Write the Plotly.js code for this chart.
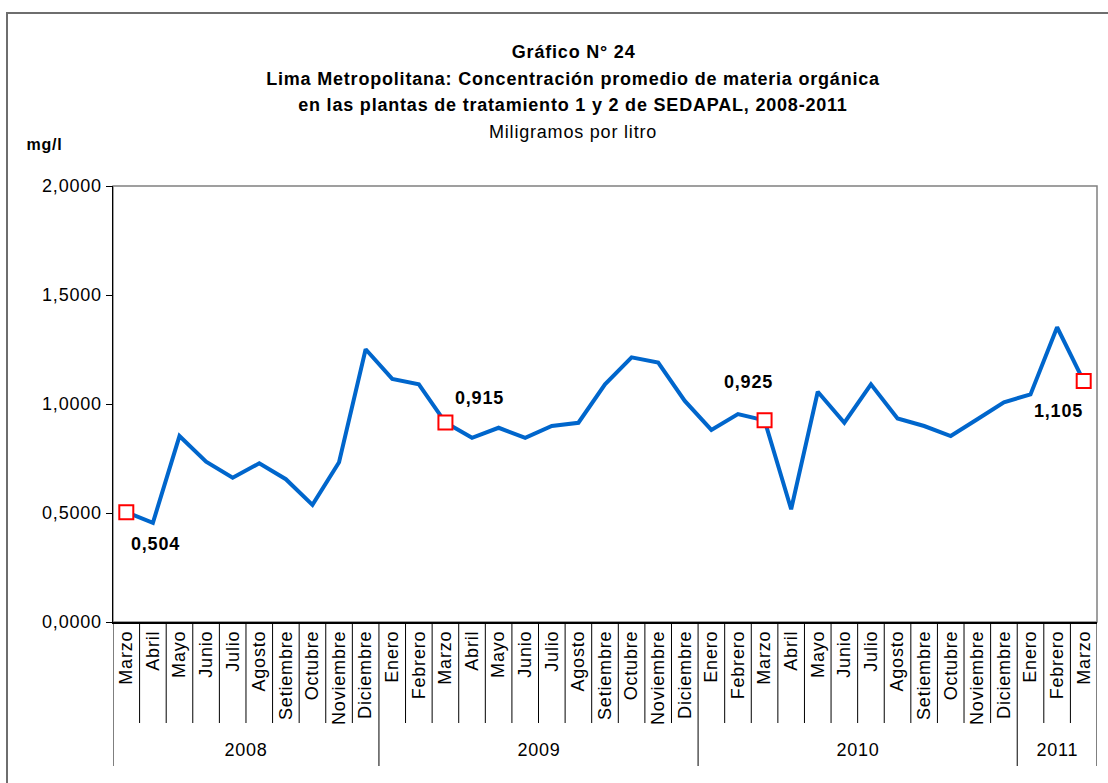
<!DOCTYPE html>
<html><head><meta charset="utf-8">
<script src="https://cdn.plot.ly/plotly-3.0.1.min.js"></script>
<style>html,body{margin:0;padding:0;background:#fff}#chart{width:1108px;height:783px}
#chart text{letter-spacing:0.8px}</style>
</head><body><div id="chart"></div>
<script>
// ---- data ----
const months = ["Marzo","Abril","Mayo","Junio","Julio","Agosto","Setiembre","Octubre","Noviembre","Diciembre",
  "Enero","Febrero","Marzo","Abril","Mayo","Junio","Julio","Agosto","Setiembre","Octubre","Noviembre","Diciembre",
  "Enero","Febrero","Marzo","Abril","Mayo","Junio","Julio","Agosto","Setiembre","Octubre","Noviembre","Diciembre",
  "Enero","Febrero","Marzo"];
const years = ["2008","2009","2010","2011"];
const yearCounts = [10,12,12,3];
const values = [0.504,0.455,0.853,0.735,0.662,0.728,0.655,0.537,0.733,1.251,
  1.115,1.090,0.915,0.845,0.891,0.845,0.899,0.914,1.090,1.214,1.190,1.014,
  0.881,0.954,0.925,0.517,1.056,0.914,1.090,0.934,0.899,0.853,0.930,1.008,
  1.044,1.352,1.105];
const labeledIdx = [0,12,24,36];
const yTicks = [0,0.5,1.0,1.5,2.0];

// ---- styles ----
const FONT = "Liberation Sans, Arial, sans-serif";
const labelOffsets = [[29,-32],[34,25],[-16,38],[-25,-30]];

const xs = values.map((v,i)=>i);
const fmt = v => v.toFixed(3).replace('.',',');

const traces = [
  {x: xs, y: values, type:'scatter', mode:'lines',
   line:{color:'#0066CC', width:4}, hoverinfo:'skip'},
  {x: labeledIdx, y: labeledIdx.map(i=>values[i]), type:'scatter', mode:'markers',
   marker:{symbol:'square', size:14, color:'#ffffff', line:{color:'#FF0000', width:2}}, hoverinfo:'skip'}
];

const shapes = [];
// plot frame (gray top/right)
shapes.push({type:'rect', xref:'paper', yref:'paper', x0:0, x1:1, y0:0, y1:1,
  line:{color:'#808080', width:1.5}, layer:'below'});
// outer frame
shapes.push({type:'rect', xref:'paper', yref:'paper', x0:(7-113)/984, x1:(1130-113)/984,
  y0:-0.5, y1:(622-13)/436, line:{color:'#6e6e6e', width:2}, layer:'below'});
// separators
const yearBounds = [];
let acc = 0;
yearBounds.push(-0.5);
yearCounts.forEach(c=>{acc+=c; yearBounds.push(acc-0.5);});
for (let k=0;k<=months.length;k++){
  const xb = k-0.5;
  const isYear = yearBounds.includes(xb);
  shapes.push({type:'line', xref:'x', yref:'paper', x0:xb, x1:xb, y0:0,
    y1: isYear ? -(766-622)/436 : -(723-622)/436, line:{color:'#000000', width:1}});
}

const annotations = [];
// year labels
acc = 0;
years.forEach((yr,j)=>{
  const mid = acc + yearCounts[j]/2 - 0.5;
  acc += yearCounts[j];
  annotations.push({x:mid, y:-(750-622)/436, xref:'x', yref:'paper', text:yr, showarrow:false,
    font:{family:FONT, size:18, color:'#000'}, xanchor:'center', yanchor:'middle'});
});
// data labels
labeledIdx.forEach((i,j)=>{
  annotations.push({x:i, y:values[i], xref:'x', yref:'y', text:'<b>'+fmt(values[i])+'</b>', showarrow:false,
    xshift:labelOffsets[j][0], yshift:labelOffsets[j][1],
    font:{family:FONT, size:18, color:'#000'}, xanchor:'center', yanchor:'middle'});
});
// titles
const tx = (573-113)/984;
const titleLines = [
  ['<b>Gráfico N° 24</b>', 52],
  ['<b>Lima Metropolitana: Concentración promedio de materia orgánica</b>', 79],
  ['<b>en las plantas de tratamiento 1 y 2 de SEDAPAL, 2008-2011</b>', 105],
  ['Miligramos por litro', 132]
];
titleLines.forEach(([t,py])=>{
  annotations.push({x:tx, y:(622-py)/436, xref:'paper', yref:'paper', text:t, showarrow:false,
    font:{family:FONT, size:18, color:'#000'}, xanchor:'center', yanchor:'middle'});
});
annotations.push({x:(44-113)/984, y:(622-145)/436, xref:'paper', yref:'paper', text:'<b>mg/l</b>', showarrow:false,
  font:{family:FONT, size:16, color:'#000'}, xanchor:'center', yanchor:'middle'});

const layout = {
  width:1108, height:783,
  margin:{l:113, r:11, t:186, b:161, pad:0},
  paper_bgcolor:'#fff', plot_bgcolor:'#fff',
  showlegend:false,
  separators:',.',
  font:{family:FONT, size:18, color:'#000'},
  xaxis:{range:[-0.5, months.length-0.5], tickmode:'array', tickvals:xs, ticktext:months,
    tickangle:-90, ticks:'', showgrid:false, zeroline:false, showline:true, linecolor:'#000', linewidth:1.5,
    tickfont:{family:FONT, size:18, color:'#000'}, fixedrange:true},
  yaxis:{range:[0,2], tickmode:'array', tickvals:yTicks, tickformat:'.4f', ticks:'outside', ticklen:6,
    tickcolor:'#000', showgrid:false, zeroline:false, showline:true, linecolor:'#000', linewidth:1.5,
    tickfont:{family:FONT, size:18, color:'#000'}, fixedrange:true},
  shapes:shapes,
  annotations:annotations
};
Plotly.newPlot('chart', traces, layout, {staticPlot:true, displayModeBar:false});
</script></body></html>
